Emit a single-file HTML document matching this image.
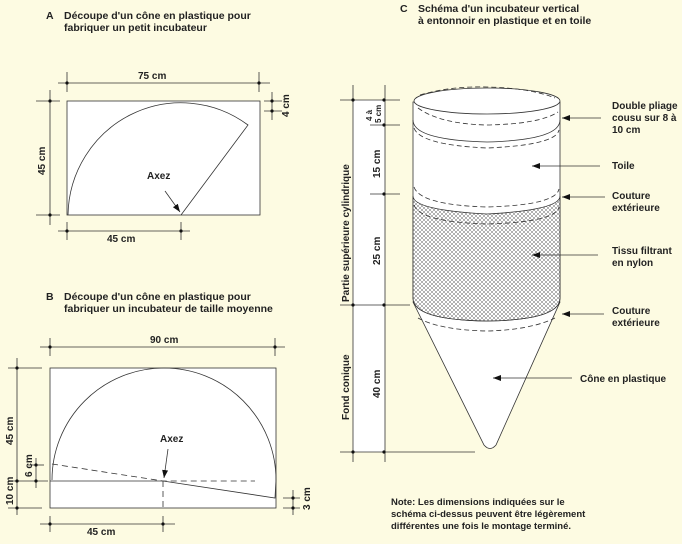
<!DOCTYPE html>
<html><head><meta charset="utf-8"><style>
html,body{margin:0;padding:0;background:#fdfbe2;}
svg{display:block;font-family:"Liberation Sans",sans-serif;}
text{fill:#222;font-weight:bold;}
</style></head><body>
<svg width="682" height="544" viewBox="0 0 682 544" xmlns="http://www.w3.org/2000/svg">
<defs>
<pattern id="net" width="4" height="4" patternUnits="userSpaceOnUse">
<rect width="4" height="4" fill="#fff"/>
<path d="M0 0L4 4M4 0L0 4" stroke="#666" stroke-width="0.5"/>
</pattern>
<marker id="ar" markerWidth="8" markerHeight="6" refX="8" refY="3" orient="auto" markerUnits="userSpaceOnUse"><path d="M0 0L8 3L0 6z" fill="#111"/></marker>
</defs>
<rect width="682" height="544" fill="#fdfbe2"/>
<g font-size="10.5">
<text x="46" y="19">A</text><text x="64" y="19">Découpe d'un cône en plastique pour</text>
<text x="64" y="31">fabriquer un petit incubateur</text>
<text x="46" y="300">B</text><text x="64" y="300">Découpe d'un cône en plastique pour</text>
<text x="64" y="312">fabriquer un incubateur de taille moyenne</text>
<text x="400" y="12">C</text><text x="418" y="12">Schéma d'un incubateur vertical</text>
<text x="418" y="24">à entonnoir en plastique et en toile</text>
</g>
<!-- A -->
<g stroke="#333" stroke-width="0.8" fill="none">
<rect x="67" y="101" width="193" height="114" fill="#fff"/>
<path d="M68 215 A113 114 0 0 1 248 125 L181 215"/>
<line x1="58" y1="83" x2="270" y2="83"/><line x1="67" y1="72" x2="67" y2="92"/><line x1="259" y1="72" x2="259" y2="92"/>
<line x1="36" y1="101" x2="60" y2="101"/><line x1="36" y1="215" x2="60" y2="215"/><line x1="50" y1="90" x2="50" y2="225"/>
<line x1="264" y1="101" x2="282" y2="101"/><line x1="264" y1="111" x2="282" y2="111"/><line x1="272" y1="92" x2="272" y2="120"/>
<line x1="58" y1="231" x2="190" y2="231"/><line x1="67" y1="222" x2="67" y2="240"/><line x1="181" y1="222" x2="181" y2="240"/>
<line x1="165" y1="191" x2="180" y2="212" marker-end="url(#ar)"/>
</g>
<g fill="#111"><circle cx="67" cy="83" r="1.6"/><circle cx="259" cy="83" r="1.6"/><circle cx="50" cy="101" r="1.6"/><circle cx="50" cy="215" r="1.6"/><circle cx="272" cy="101" r="1.6"/><circle cx="272" cy="111" r="1.6"/><circle cx="67" cy="231" r="1.6"/><circle cx="181" cy="231" r="1.6"/></g>
<g font-size="10"><text x="138" y="79">75 cm</text><text x="147" y="179">Axez</text><text x="107" y="242">45 cm</text>
<text transform="translate(45,175) rotate(-90)">45 cm</text><text transform="translate(289,117) rotate(-90)">4 cm</text></g>
<!-- B -->
<g stroke="#333" stroke-width="0.8" fill="none">
<rect x="50" y="368" width="226" height="140" fill="#fff"/>
<path d="M52 480 A112 112 0 0 1 276 480 L275 498 L163 481 L50 481"/>
<path d="M52 464 L163 481 L255 481 M163 481 L163 508" stroke-dasharray="6,4"/>
<line x1="40" y1="347" x2="285" y2="347"/><line x1="50" y1="338" x2="50" y2="356"/><line x1="275" y1="338" x2="275" y2="356"/>
<line x1="8" y1="368" x2="42" y2="368"/><line x1="8" y1="508" x2="42" y2="508"/><line x1="12" y1="481" x2="48" y2="481"/><line x1="17" y1="358" x2="17" y2="515"/>
<line x1="28" y1="465" x2="44" y2="465"/><line x1="36" y1="458" x2="36" y2="488"/>
<line x1="283" y1="498" x2="300" y2="498"/><line x1="283" y1="508" x2="300" y2="508"/><line x1="293" y1="490" x2="293" y2="515"/>
<line x1="40" y1="524" x2="175" y2="524"/><line x1="50" y1="516" x2="50" y2="532"/><line x1="163" y1="516" x2="163" y2="532"/>
<line x1="168" y1="449" x2="164" y2="478" marker-end="url(#ar)"/>
</g>
<g fill="#111"><circle cx="50" cy="347" r="1.6"/><circle cx="275" cy="347" r="1.6"/><circle cx="17" cy="368" r="1.6"/><circle cx="17" cy="481" r="1.6"/><circle cx="17" cy="508" r="1.6"/><circle cx="36" cy="465" r="1.6"/><circle cx="36" cy="481" r="1.6"/><circle cx="293" cy="498" r="1.6"/><circle cx="293" cy="508" r="1.6"/><circle cx="50" cy="524" r="1.6"/><circle cx="163" cy="524" r="1.6"/></g>
<g font-size="10"><text x="150" y="343">90 cm</text><text x="160" y="442">Axez</text><text x="87" y="535">45 cm</text>
<text transform="translate(13,445) rotate(-90)">45 cm</text><text transform="translate(13,505) rotate(-90)">10 cm</text>
<text transform="translate(32,477) rotate(-90)">6 cm</text><text transform="translate(310,510) rotate(-90)">3 cm</text></g>
<!-- C strip -->
<rect x="353" y="100" width="32" height="352" fill="#fff"/>
<g stroke="#333" stroke-width="0.8" fill="none">
<line x1="353" y1="85" x2="353" y2="462"/><line x1="385" y1="85" x2="385" y2="462"/>
<line x1="340" y1="100" x2="400" y2="100"/><line x1="370" y1="125" x2="400" y2="125"/><line x1="370" y1="194" x2="400" y2="194"/>
<line x1="340" y1="305" x2="410" y2="305"/><line x1="340" y1="452" x2="475" y2="452"/>
</g>
<g fill="#111"><circle cx="353" cy="100" r="1.6"/><circle cx="384" cy="100" r="1.6"/><circle cx="384" cy="125" r="1.6"/><circle cx="384" cy="194" r="1.6"/><circle cx="353" cy="305" r="1.6"/><circle cx="384" cy="305" r="1.6"/><circle cx="353" cy="452" r="1.6"/><circle cx="384" cy="452" r="1.6"/></g>
<g font-size="10">
<text transform="translate(349,302) rotate(-90)" font-weight="normal">Partie supérieure cylindrique</text>
<text transform="translate(349,420) rotate(-90)">Fond conique</text>
<text transform="translate(372,121) rotate(-90)" font-size="8">4 à</text>
<text transform="translate(381,123) rotate(-90)" font-size="8">5 cm</text>
<text transform="translate(380,178) rotate(-90)">15 cm</text>
<text transform="translate(380,265) rotate(-90)">25 cm</text>
<text transform="translate(380,398) rotate(-90)">40 cm</text>
</g>
<!-- incubator -->
<g stroke="#333" stroke-width="0.8">
<path d="M413 302 L484 445 Q490 452 496 445 L560 302 Z" fill="#fff"/>
<path d="M413 102 L413 298 Q413 320 487 321 Q560 320 560 298 L560 102 Z" fill="#fff"/>
<path d="M413 196 Q413 210 487 214 Q560 210 560 196 L560 298 Q560 320 487 321 Q413 320 413 298 Z" fill="url(#net)"/>
<ellipse cx="487" cy="101" rx="73" ry="13" fill="#fff"/>
<g fill="none">
<path d="M413 120 Q413 140 487 142 Q560 140 560 120"/>
<path d="M418 108 Q440 124 487 125 Q540 124 558 112" stroke-dasharray="5,3"/>
<path d="M420 95 Q450 86 487 87 Q530 88 555 98" stroke-dasharray="5,3"/>
<path d="M414 128 Q420 145 487 148 Q556 145 559 130" stroke-dasharray="5,3"/>
<path d="M414 187 Q420 205 487 207 Q556 205 559 189" stroke-dasharray="5,3"/>
<path d="M414 205 Q420 222 487 224 Q556 222 559 207" stroke-dasharray="5,3"/>
<path d="M418 318 Q440 330 487 331 Q530 330 555 318" stroke-dasharray="5,3"/>
<line x1="601" y1="118" x2="562" y2="118" marker-end="url(#ar)"/>
<line x1="600" y1="166" x2="532" y2="166" marker-end="url(#ar)"/>
<line x1="605" y1="197" x2="562" y2="197" marker-end="url(#ar)"/>
<line x1="598" y1="255" x2="532" y2="255" marker-end="url(#ar)"/>
<line x1="604" y1="314" x2="562" y2="314" marker-end="url(#ar)"/>
<line x1="572" y1="378" x2="493" y2="378" marker-end="url(#ar)"/>
</g></g>
<g font-size="10">
<text x="612" y="109">Double pliage</text><text x="612" y="121">cousu sur 8 à</text><text x="612" y="133">10 cm</text>
<text x="612" y="169">Toile</text>
<text x="612" y="199">Couture</text><text x="612" y="211">extérieure</text>
<text x="612" y="254">Tissu filtrant</text><text x="612" y="266">en nylon</text>
<text x="612" y="314">Couture</text><text x="612" y="326">extérieure</text>
<text x="580" y="382">Cône en plastique</text>
<text x="391" y="505" font-size="9.5">Note: Les dimensions indiquées sur le</text>
<text x="391" y="517" font-size="9.5">schéma ci-dessus peuvent être légèrement</text>
<text x="391" y="529" font-size="9.5">différentes une fois le montage terminé.</text>
</g>
</svg>
</body></html>
